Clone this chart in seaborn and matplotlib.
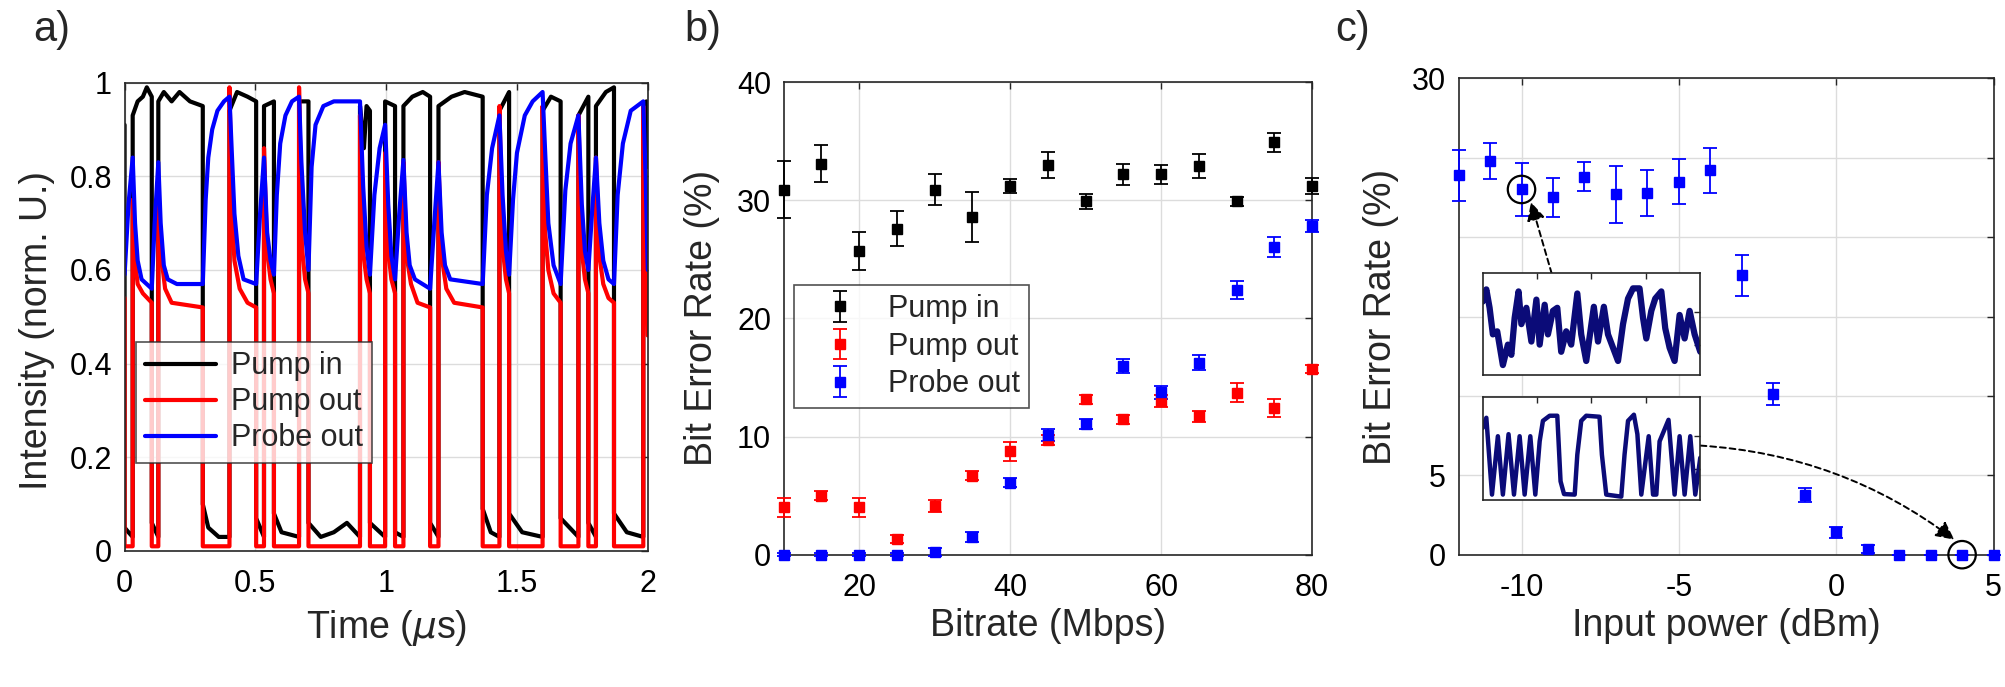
import numpy as np
import matplotlib
matplotlib.use("Agg")
import matplotlib.pyplot as plt
import seaborn as sns

# ---------------- data ----------------
# a) time traces, (time in us, normalised intensity) vertices
pump_in = [(0.000, 0.91), (0.000, 0.05), (0.015, 0.04), (0.031, 0.03), (0.031, 0.93), (0.050, 0.96),
           (0.070, 0.97), (0.085, 0.99), (0.104, 0.97), (0.104, 0.06), (0.129, 0.03), (0.129, 0.96),
           (0.150, 0.98), (0.180, 0.96), (0.210, 0.98), (0.250, 0.96), (0.299, 0.95), (0.299, 0.10),
           (0.320, 0.05), (0.360, 0.03), (0.401, 0.03), (0.401, 0.94), (0.430, 0.98), (0.470, 0.97),
           (0.503, 0.96), (0.503, 0.07), (0.533, 0.03), (0.533, 0.95), (0.571, 0.96), (0.571, 0.08),
           (0.600, 0.04), (0.667, 0.03), (0.667, 0.96), (0.703, 0.96), (0.703, 0.06), (0.750, 0.03),
           (0.800, 0.04), (0.850, 0.06), (0.900, 0.03), (0.900, 0.95), (0.915, 0.86), (0.925, 0.95),
           (0.938, 0.94), (0.938, 0.06), (0.996, 0.03), (0.996, 0.96), (1.034, 0.95), (1.034, 0.04),
           (1.066, 0.03), (1.066, 0.95), (1.100, 0.97), (1.140, 0.98), (1.168, 0.97), (1.168, 0.06),
           (1.200, 0.03), (1.200, 0.95), (1.250, 0.97), (1.300, 0.98), (1.369, 0.97), (1.369, 0.09),
           (1.400, 0.04), (1.433, 0.03), (1.433, 0.94), (1.470, 0.98), (1.470, 0.08), (1.520, 0.04),
           (1.598, 0.03), (1.598, 0.94), (1.630, 0.97), (1.667, 0.96), (1.667, 0.07), (1.735, 0.03),
           (1.735, 0.93), (1.773, 0.97), (1.773, 0.06), (1.802, 0.03), (1.802, 0.95), (1.840, 0.98),
           (1.871, 0.99), (1.871, 0.08), (1.920, 0.04), (1.983, 0.03), (1.983, 0.92), (1.995, 0.96),
           (2.000, 0.82)]

pump_out = [(0.000, 0.54), (0.000, 0.01), (0.031, 0.01), (0.031, 0.75), (0.040, 0.62), (0.050, 0.57),
            (0.070, 0.55), (0.104, 0.53), (0.104, 0.01), (0.129, 0.01), (0.129, 0.75), (0.140, 0.63),
            (0.155, 0.56), (0.180, 0.53), (0.299, 0.52), (0.299, 0.01), (0.401, 0.01), (0.401, 0.99),
            (0.410, 0.72), (0.420, 0.62), (0.440, 0.56), (0.470, 0.53), (0.503, 0.52), (0.503, 0.01),
            (0.533, 0.01), (0.533, 0.86), (0.545, 0.64), (0.558, 0.58), (0.571, 0.55), (0.571, 0.01),
            (0.667, 0.01), (0.667, 0.99), (0.678, 0.65), (0.690, 0.58), (0.703, 0.55), (0.703, 0.01),
            (0.900, 0.01), (0.900, 0.93), (0.912, 0.64), (0.925, 0.58), (0.938, 0.55), (0.938, 0.01),
            (0.996, 0.01), (0.996, 0.85), (1.008, 0.64), (1.020, 0.58), (1.034, 0.55), (1.034, 0.01),
            (1.066, 0.01), (1.066, 0.83), (1.078, 0.63), (1.095, 0.57), (1.120, 0.53), (1.168, 0.52),
            (1.168, 0.01), (1.200, 0.01), (1.200, 0.83), (1.212, 0.63), (1.230, 0.56), (1.260, 0.53),
            (1.369, 0.52), (1.369, 0.01), (1.433, 0.01), (1.433, 0.95), (1.445, 0.65), (1.458, 0.58),
            (1.470, 0.55), (1.470, 0.01), (1.598, 0.01), (1.598, 0.95), (1.608, 0.68), (1.620, 0.60),
            (1.640, 0.55), (1.667, 0.53), (1.667, 0.01), (1.735, 0.01), (1.735, 0.93), (1.748, 0.64),
            (1.760, 0.58), (1.773, 0.55), (1.773, 0.01), (1.802, 0.01), (1.802, 0.84), (1.815, 0.63),
            (1.830, 0.57), (1.850, 0.54), (1.871, 0.53), (1.871, 0.01), (1.983, 0.01), (1.983, 0.95),
            (1.992, 0.65), (2.000, 0.46)]

probe_out = [(0.000, 0.59), (0.015, 0.74), (0.031, 0.84), (0.040, 0.70), (0.050, 0.62), (0.065, 0.58),
             (0.104, 0.56), (0.115, 0.70), (0.129, 0.83), (0.138, 0.70), (0.150, 0.61), (0.165, 0.58),
             (0.200, 0.57), (0.299, 0.57), (0.310, 0.75), (0.320, 0.84), (0.335, 0.90), (0.355, 0.94),
             (0.380, 0.96), (0.401, 0.97), (0.410, 0.85), (0.420, 0.72), (0.435, 0.63), (0.455, 0.58),
             (0.503, 0.57), (0.518, 0.72), (0.533, 0.84), (0.545, 0.68), (0.558, 0.62), (0.571, 0.59),
             (0.582, 0.76), (0.595, 0.87), (0.615, 0.93), (0.640, 0.96), (0.667, 0.97), (0.676, 0.83),
             (0.690, 0.68), (0.703, 0.60), (0.715, 0.82), (0.730, 0.91), (0.760, 0.95), (0.800, 0.96),
             (0.900, 0.96), (0.912, 0.78), (0.925, 0.65), (0.938, 0.59), (0.955, 0.76), (0.975, 0.86),
             (0.996, 0.91), (1.008, 0.74), (1.020, 0.63), (1.034, 0.58), (1.050, 0.72), (1.066, 0.835),
             (1.078, 0.68), (1.090, 0.61), (1.110, 0.58), (1.168, 0.56), (1.184, 0.70), (1.200, 0.83),
             (1.212, 0.68), (1.225, 0.61), (1.245, 0.58), (1.369, 0.57), (1.385, 0.76), (1.405, 0.86),
             (1.433, 0.93), (1.445, 0.76), (1.458, 0.64), (1.470, 0.59), (1.485, 0.75), (1.500, 0.85),
             (1.530, 0.93), (1.560, 0.96), (1.598, 0.98), (1.608, 0.85), (1.620, 0.70), (1.640, 0.61),
             (1.667, 0.57), (1.685, 0.77), (1.705, 0.87), (1.735, 0.93), (1.748, 0.74), (1.760, 0.64),
             (1.773, 0.60), (1.788, 0.73), (1.802, 0.84), (1.815, 0.70), (1.830, 0.62), (1.850, 0.58),
             (1.871, 0.57), (1.885, 0.76), (1.905, 0.87), (1.935, 0.94), (1.983, 0.96), (1.992, 0.80),
             (2.000, 0.60)]

# b) bit error rate vs bitrate
bitrate = [10, 15, 20, 25, 30, 35, 40, 45, 50, 55, 60, 65, 70, 75, 80]
ber_pump_in = [30.9, 33.1, 25.7, 27.6, 30.9, 28.6, 31.2, 33.0, 29.9, 32.2, 32.2, 32.9, 29.9, 34.9, 31.2]
err_pump_in = [2.4, 1.6, 1.6, 1.5, 1.3, 2.1, 0.6, 1.1, 0.65, 0.9, 0.8, 1.0, 0.4, 0.8, 0.7]
ber_pump_out = [4.0, 5.0, 4.0, 1.3, 4.1, 6.7, 8.75, 9.7, 13.15, 11.45, 13.0, 11.7, 13.7, 12.4, 15.7]
err_pump_out = [0.8, 0.35, 0.8, 0.35, 0.5, 0.4, 0.8, 0.4, 0.4, 0.4, 0.5, 0.5, 0.8, 0.75, 0.35]
ber_probe_out = [0, 0, 0, 0, 0.23, 1.5, 6.1, 10.15, 11.05, 15.95, 13.75, 16.25, 22.4, 26.05, 27.8]
err_probe_out = [0.15, 0.15, 0.15, 0.15, 0.3, 0.45, 0.4, 0.5, 0.45, 0.6, 0.55, 0.65, 0.8, 0.85, 0.5]

# c) bit error rate vs input power
power = [-12, -11, -10, -9, -8, -7, -6, -5, -4, -3, -2, -1, 0, 1, 2, 3, 4, 5]
ber_power = [23.9, 24.8, 23.0, 22.5, 23.8, 22.7, 22.8, 23.5, 24.2, 17.6, 10.1, 3.75, 1.4, 0.35, 0, 0, 0, 0]
err_power = [1.6, 1.15, 1.65, 1.25, 0.9, 1.8, 1.45, 1.4, 1.4, 1.3, 0.7, 0.45, 0.35, 0.25, 0, 0, 0, 0]
circled = [(-10, 23.0), (4, 0.0)]

# insets of c), (fraction of width, fraction of height)
inset_noisy = [(0.0, 0.72), (0.017, 0.84), (0.032, 0.66), (0.047, 0.40), (0.067, 0.43), (0.093, 0.10),
               (0.116, 0.30), (0.132, 0.20), (0.147, 0.56), (0.165, 0.82), (0.178, 0.50), (0.201, 0.66),
               (0.224, 0.33), (0.247, 0.74), (0.262, 0.30), (0.285, 0.69), (0.300, 0.40), (0.323, 0.63),
               (0.343, 0.66), (0.361, 0.23), (0.384, 0.43), (0.407, 0.30), (0.435, 0.80), (0.453, 0.40),
               (0.476, 0.14), (0.511, 0.67), (0.530, 0.33), (0.557, 0.67), (0.576, 0.40), (0.599, 0.27),
               (0.622, 0.14), (0.645, 0.50), (0.668, 0.75), (0.691, 0.85), (0.721, 0.85), (0.737, 0.56),
               (0.752, 0.36), (0.775, 0.63), (0.793, 0.75), (0.821, 0.82), (0.839, 0.46), (0.859, 0.27),
               (0.882, 0.14), (0.905, 0.59), (0.928, 0.36), (0.951, 0.63), (0.974, 0.40), (1.0, 0.23)]
inset_clean = [(0.0, 0.70), (0.017, 0.80), (0.043, 0.05), (0.070, 0.62), (0.093, 0.05), (0.119, 0.64),
               (0.144, 0.05), (0.170, 0.62), (0.193, 0.05), (0.219, 0.62), (0.242, 0.05), (0.262, 0.57),
               (0.277, 0.77), (0.308, 0.82), (0.343, 0.82), (0.358, 0.18), (0.374, 0.055), (0.423, 0.05),
               (0.435, 0.44), (0.453, 0.77), (0.476, 0.82), (0.537, 0.81), (0.548, 0.44), (0.568, 0.05),
               (0.637, 0.03), (0.652, 0.44), (0.668, 0.77), (0.695, 0.83), (0.711, 0.64), (0.729, 0.05),
               (0.763, 0.62), (0.783, 0.05), (0.798, 0.05), (0.813, 0.57), (0.854, 0.78), (0.882, 0.05),
               (0.905, 0.62), (0.928, 0.05), (0.954, 0.62), (0.977, 0.05), (1.0, 0.41)]

# ---------------- style ----------------
sns.set_theme(style="white")
plt.rcParams["font.family"] = ["Liberation Sans", "DejaVu Sans"]
plt.rcParams["axes.unicode_minus"] = False
plt.rcParams["mathtext.fontset"] = "dejavusans"

TICK = 22
LABEL = 27
GRID = "#dcdcdc"
SPINE = "#262626"


def style_axes(ax):
    ax.grid(True, color=GRID, lw=1.0)
    ax.set_axisbelow(True)
    for s in ax.spines.values():
        s.set_color(SPINE)
        s.set_linewidth(1.2)
    ax.tick_params(direction="in", top=True, right=True, length=5, width=1.0,
                   color=SPINE, labelsize=TICK, labelcolor="black")
    ax.tick_params(axis="x", pad=13)
    ax.tick_params(axis="y", pad=9)


fig = plt.figure(figsize=(20.06, 6.87), dpi=100)

# ---------------- a) ----------------
ax_a = fig.add_axes([0.0621, 0.198, 0.2608, 0.6817])
for trace, col, lab in [(pump_in, "black", "Pump in"), (pump_out, "#ff0000", "Pump out"),
                        (probe_out, "#0000ff", "Probe out")]:
    t, v = np.array(trace).T
    sns.lineplot(x=t, y=v, ax=ax_a, estimator=None, sort=False, color=col, lw=3.0, label=lab)
ax_a.set_xlim(0, 2)
ax_a.set_ylim(0, 1)
ax_a.set_xticks([0, 0.5, 1, 1.5, 2])
ax_a.set_xticklabels(["0", "0.5", "1", "1.5", "2"])
ax_a.set_yticks([0, 0.2, 0.4, 0.6, 0.8, 1])
ax_a.set_yticklabels(["0", "0.2", "0.4", "0.6", "0.8", "1"])
style_axes(ax_a)
ax_a.set_xlabel(r"Time ($\mu$s)", fontsize=LABEL)
ax_a.set_ylabel("Intensity (norm. U.)", fontsize=LABEL)
ax_a.xaxis.set_label_coords(0.5, -0.122)
ax_a.yaxis.set_label_coords(-0.133, 0.47)
leg = ax_a.legend(loc="upper left", bbox_to_anchor=(0.022, 0.446), borderaxespad=0,
                  fontsize=22, frameon=True, fancybox=False, handlelength=2.3,
                  handletextpad=0.5, labelspacing=0.2, borderpad=0.3)
leg.get_frame().set_edgecolor(SPINE)
leg.get_frame().set_linewidth(1.2)

# ---------------- b) ----------------
ax_b = fig.add_axes([0.3907, 0.1926, 0.2634, 0.688])
for y, e, col, lab in [(ber_pump_in, err_pump_in, "black", "Pump in"),
                       (ber_pump_out, err_pump_out, "#ff0000", "Pump out"),
                       (ber_probe_out, err_probe_out, "#0000ff", "Probe out")]:
    ax_b.errorbar(bitrate, y, yerr=e, fmt="s", color=col, ms=7.5, capsize=5,
                  elinewidth=1.3, capthick=1.3, label=lab, clip_on=False, zorder=3)
ax_b.set_xlim(10, 80)
ax_b.set_ylim(0, 40)
ax_b.set_xticks([20, 40, 60, 80])
ax_b.set_yticks([0, 10, 20, 30, 40])
style_axes(ax_b)
ax_b.set_xlabel("Bitrate (Mbps)", fontsize=LABEL)
ax_b.set_ylabel("Bit Error Rate (%)", fontsize=LABEL)
ax_b.xaxis.set_label_coords(0.5, -0.113)
ax_b.yaxis.set_label_coords(-0.121, 0.5)
leg = ax_b.legend(loc="upper left", bbox_to_anchor=(0.020, 0.571), borderaxespad=0,
                  fontsize=22, frameon=True, fancybox=False, handlelength=2.4,
                  handletextpad=0.35, labelspacing=0.25, borderpad=0.3)
leg.get_frame().set_edgecolor(SPINE)
leg.get_frame().set_linewidth(1.2)

# ---------------- c) ----------------
ax_c = fig.add_axes([0.7271, 0.1926, 0.2667, 0.6934])
ax_c.errorbar(power, ber_power, yerr=err_power, fmt="s", color="#0000ff", ms=7.5, capsize=5,
              elinewidth=1.3, capthick=1.3, clip_on=False, zorder=3)
cx, cy = np.array(circled).T
sns.scatterplot(x=cx, y=cy, ax=ax_c, marker="o", s=390, facecolor="none",
                edgecolor="black", linewidth=1.6, clip_on=False, zorder=4)
ax_c.set_xlim(-12, 5)
ax_c.set_ylim(0, 30)
ax_c.set_xticks([-10, -5, 0, 5])
ax_c.set_xticklabels(["-10", "-5", "0", "5"])
ax_c.set_yticks([0, 5, 10, 15, 20, 25, 30])
ax_c.set_yticklabels(["0", "5", "", "", "", "", "30"])
style_axes(ax_c)
ax_c.set_xlabel("Input power (dBm)", fontsize=LABEL)
ax_c.set_ylabel("Bit Error Rate (%)", fontsize=LABEL)
ax_c.xaxis.set_label_coords(0.5, -0.112)
ax_c.yaxis.set_label_coords(-0.111, 0.5)

ax_c.annotate("", xy=(-9.70, 22.2), xytext=(-9.04, 17.7),
              arrowprops=dict(arrowstyle="-|>,head_length=0.5,head_width=0.25", ls=(0, (3, 2)),
                              color="black", lw=1.4, shrinkA=0, shrinkB=0, mutation_scale=22))
ax_c.annotate("", xy=(3.75, 0.95), xytext=(-4.31, 6.87),
              arrowprops=dict(arrowstyle="-|>,head_length=0.5,head_width=0.25", ls=(0, (3, 2)),
                              color="black", lw=1.4, shrinkA=0, shrinkB=0, mutation_scale=22,
                              connectionstyle="arc3,rad=-0.15"))

navy = "#0b0b78"
for rect, trace, lw in [([0.7391, 0.4537, 0.1085, 0.1489], inset_noisy, 4.5),
                        ([0.7391, 0.2726, 0.1085, 0.1491], inset_clean, 3.2)]:
    ins = fig.add_axes(rect)
    ins.set_facecolor("white")
    x, y = np.array(trace).T
    sns.lineplot(x=x, y=y, ax=ins, estimator=None, sort=False, color=navy, lw=lw)
    ins.set_xlim(0, 1)
    ins.set_ylim(0, 1)
    ins.set_xticks([0.25, 0.5, 0.75])
    ins.set_yticks([0.3, 0.62])
    ins.set_xticklabels([])
    ins.set_yticklabels([])
    ins.set_xlabel("")
    ins.set_ylabel("")
    for s in ins.spines.values():
        s.set_color(SPINE)
        s.set_linewidth(1.2)
    ins.tick_params(direction="in", top=True, right=True, length=4, width=1.0, color=SPINE)

# panel letters
for xpos, letter in [(0.0165, "a)"), (0.341, "b)"), (0.6655, "c)")]:
    fig.text(xpos, 0.985, letter, fontsize=30, ha="left", va="top")

fig.savefig("out.png", dpi=100)
